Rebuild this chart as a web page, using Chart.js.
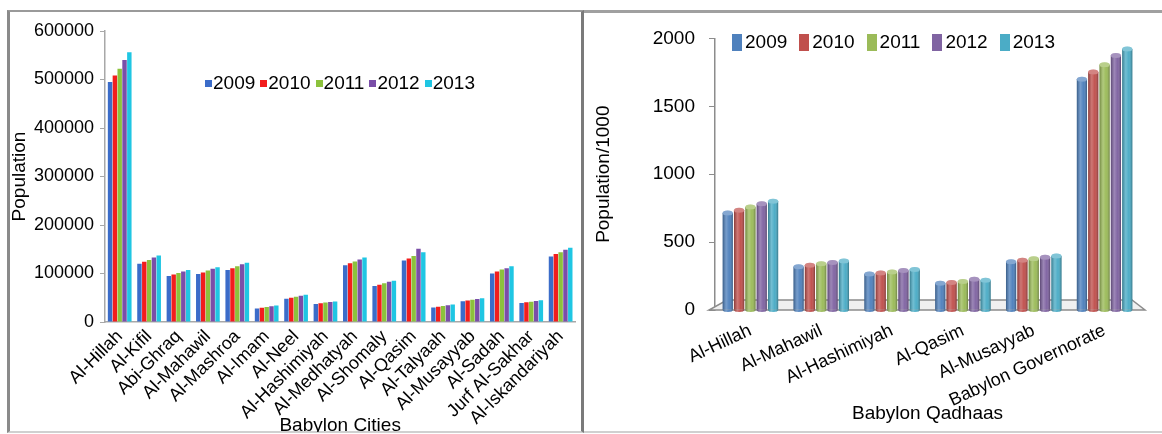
<!DOCTYPE html>
<html>
<head>
<meta charset="utf-8">
<script src="https://cdn.jsdelivr.net/npm/chart.js@4.4.0/dist/chart.umd.min.js"></script>
<style>
  html, body { margin: 0; padding: 0; background: #fff; }
  body { position: relative; width: 1162px; height: 434px; overflow: hidden; }
  .frame { position: absolute; box-sizing: border-box; }
  #leftFrame {
    left: 7px; top: 10px; width: 577px; height: 423px;
    border-left: 3px solid #8a8a8a; border-top: 2px solid #9a9a9a;
    border-right: 3px solid #7a7a7a; border-bottom: 2px solid #d0d0d0;
  }
  #rightFrame {
    left: 584px; top: 10px; width: 590px; height: 423px;
    border-top: 3px solid #a0a0a0; border-bottom: 2px solid #d0d0d0;
  }
  canvas { position: absolute; }
  #cities { left: 10px; top: 12px; }
  #qadhaas { left: 586px; top: 13px; }
  .legend {
    position: absolute; display: flex; align-items: center; white-space: nowrap;
    font-family: 'Liberation Sans', Arial, sans-serif; font-size: 19px; line-height: 22px; color: #000;
  }
  .legend .item { display: flex; align-items: center; }
  #citiesLegend { left: 205px; top: 72px; }
  #citiesLegend .swatch { width: 7px; height: 7px; margin-right: 1px; }
  #citiesLegend .item { margin-right: 5px; }
  #qadhaasLegend { left: 732px; top: 31px; }
  #qadhaasLegend .swatch { width: 10px; height: 17px; margin-right: 3px; }
  #qadhaasLegend .item { margin-right: 12px; }
</style>
</head>
<body>
<div class="frame" id="leftFrame"></div>
<div class="frame" id="rightFrame"></div>
<canvas id="cities" width="570" height="420"></canvas>
<canvas id="qadhaas" width="576" height="419"></canvas>
<div class="legend" id="citiesLegend"></div>
<div class="legend" id="qadhaasLegend"></div>
<script>
// Years shown in both legends
const years = ["2009", "2010", "2011", "2012", "2013"];

// Left chart: population of Babylon cities
const cityNames = [
    "Al-Hillah", "Al-Kifil", "Abi-Ghraq", "Al-Mahawil", "Al-Mashroa",
    "Al-Imam", "Al-Neel", "Al-Hashimiyah", "Al-Medhatyah", "Al-Shomaly",
    "Al-Qasim", "Al-Talyaah", "Al-Musayyab", "Al-Sadah", "Jurf Al-Sakhar",
    "Al-Iskandariyah",
];
const cityPop2009 = [495000, 120000, 95000, 99000, 107000, 28000, 48000, 37000, 117000, 74000, 127000, 30000, 43000, 100000, 39000, 135000];
const cityPop2010 = [508000, 124000, 98000, 102000, 111000, 29500, 50000, 38500, 121000, 77000, 131000, 31500, 44500, 104000, 40500, 140000];
const cityPop2011 = [522000, 128000, 101000, 106000, 115000, 31000, 52000, 40000, 125000, 80000, 136000, 33000, 46000, 108000, 42000, 144000];
const cityPop2012 = [540000, 133000, 104000, 110000, 119000, 32500, 54000, 41000, 129000, 83000, 151000, 34500, 47500, 111000, 43500, 149000];
const cityPop2013 = [556000, 137000, 107000, 113000, 122000, 34000, 56000, 42500, 133000, 85000, 144000, 36000, 49000, 115000, 45000, 153000];
const cityTicks = [0, 100000, 200000, 300000, 400000, 500000, 600000];

// Right chart: population of Babylon qadhaas, in thousands
const qadhaaNames = [
    "Al-Hillah", "Al-Mahawil", "Al-Hashimiyah", "Al-Qasim", "Al-Musayyab",
    "Babylon Governorate",
];
const qadhaaPop2009 = [715, 318, 265, 197, 355, 1700];
const qadhaaPop2010 = [735, 330, 272, 202, 367, 1752];
const qadhaaPop2011 = [758, 340, 280, 210, 377, 1806];
const qadhaaPop2012 = [782, 350, 290, 226, 388, 1875];
const qadhaaPop2013 = [800, 360, 298, 219, 397, 1922];
const qadhaaTicks = [0, 500, 1000, 1500, 2000];

const cityColors = ["#3b6cc9", "#f21d1d", "#8cc23c", "#7a4ea8", "#1fc6e3"];
const qadhaaColors = ["#4f81bd", "#c0504d", "#9bbb59", "#8064a2", "#4bacc6"];

const FONT = "'Liberation Sans', Arial, sans-serif";
Chart.defaults.font.family = FONT;
Chart.defaults.color = "#000";

// Builds an HTML legend from the chart's own legend items
const htmlLegend = {
    id: "htmlLegend",
    afterUpdate(chart, args, opts) {
        const container = document.getElementById(opts.containerID);
        if (!container) return;
        container.innerHTML = "";
        const items = chart.options.plugins.legend.labels.generateLabels(chart);
        items.forEach((item) => {
            const entry = document.createElement("span");
            entry.className = "item";
            const swatch = document.createElement("span");
            swatch.className = "swatch";
            swatch.style.background = item.fillStyle;
            const text = document.createElement("span");
            text.textContent = item.text;
            entry.appendChild(swatch);
            entry.appendChild(text);
            container.appendChild(entry);
        });
    },
};

// Grey 3D floor under the cylinders
const floorPlugin = {
    id: "floor",
    beforeDatasetsDraw(chart) {
        const { ctx, chartArea } = chart;
        const y0 = chart.scales.y.getPixelForValue(0);
        ctx.save();
        ctx.beginPath();
        ctx.moveTo(chartArea.left - 6, y0);
        ctx.lineTo(chartArea.right + 5, y0);
        ctx.lineTo(chartArea.right - 8, y0 - 10);
        ctx.lineTo(chartArea.left + 12, y0 - 10);
        ctx.closePath();
        ctx.fillStyle = "#f0f0f0";
        ctx.fill();
        ctx.strokeStyle = "#8c8c8c";
        ctx.lineWidth = 1.5;
        ctx.stroke();
        ctx.restore();
    },
};

// Shading over each bar so it reads as a cylinder
const cylinderShade = {
    id: "cylinderShade",
    afterDatasetsDraw(chart) {
        const ctx = chart.ctx;
        chart.data.datasets.forEach((ds, di) => {
            const meta = chart.getDatasetMeta(di);
            meta.data.forEach((bar) => {
                const { x, y, base, width } = bar.getProps(["x", "y", "base", "width"], true);
                const left = x - width / 2;
                ctx.save();
                // bottom rounding
                ctx.beginPath();
                ctx.ellipse(x, base, width / 2, 2.5, 0, 0, Math.PI);
                ctx.fillStyle = ds.backgroundColor;
                ctx.fill();
                const g = ctx.createLinearGradient(left, 0, left + width, 0);
                g.addColorStop(0, "rgba(0,0,0,0.28)");
                g.addColorStop(0.35, "rgba(255,255,255,0.22)");
                g.addColorStop(0.65, "rgba(255,255,255,0.02)");
                g.addColorStop(1, "rgba(0,0,0,0.32)");
                ctx.fillStyle = g;
                ctx.fillRect(left, y, width, base - y);
                ctx.beginPath();
                ctx.ellipse(x, base, width / 2, 2.5, 0, 0, Math.PI);
                ctx.fill();
                // top cap
                ctx.beginPath();
                ctx.ellipse(x, y, width / 2, 2.5, 0, 0, Math.PI * 2);
                ctx.fillStyle = ds.backgroundColor;
                ctx.fill();
                ctx.fillStyle = "rgba(255,255,255,0.3)";
                ctx.fill();
                ctx.restore();
            });
        });
    },
};

function makeDatasets(seriesList, colors) {
    return seriesList.map((data, i) => ({
        label: years[i],
        data,
        backgroundColor: colors[i],
        borderWidth: 0,
    }));
}

// Left chart
new Chart(document.querySelector("#cities"), {
    type: "bar",
    data: {
        labels: cityNames,
        datasets: makeDatasets(
            [cityPop2009, cityPop2010, cityPop2011, cityPop2012, cityPop2013],
            cityColors,
        ),
    },
    options: {
        responsive: false,
        animation: false,
        devicePixelRatio: 1,
        datasets: { bar: { categoryPercentage: 0.82, barPercentage: 0.92 } },
        layout: { padding: { left: 0, right: 3, top: 19, bottom: 0 } },
        scales: {
            x: {
                grid: { display: false, drawTicks: false },
                border: { display: true, color: "#a8a8a8", width: 1.5 },
                ticks: {
                    autoSkip: false,
                    minRotation: 45,
                    maxRotation: 45,
                    padding: 4,
                    font: { size: 18 },
                    color: "#000",
                },
                title: {
                    display: true,
                    text: "Babylon Cities",
                    font: { size: 19, lineHeight: 0.7 },
                    padding: { top: 0, bottom: 0 },
                    color: "#000",
                },
                afterFit: (scale) => { scale.height = 110; },
            },
            y: {
                min: 0,
                max: 600000,
                afterBuildTicks: (scale) => { scale.ticks = cityTicks.map((v) => ({ value: v })); },
                grid: { display: true, drawOnChartArea: false, drawTicks: true, tickLength: 5, color: "#a8a8a8" },
                border: { display: true, color: "#a8a8a8", width: 1.5 },
                ticks: { padding: 6, font: { size: 18 }, color: "#000", callback: (v) => String(v) },
                title: {
                    display: true,
                    text: "Population",
                    font: { size: 19, lineHeight: 1 },
                    padding: { top: 0, bottom: 0 },
                    color: "#000",
                },
                afterFit: (scale) => { scale.width = 95; },
            },
        },
        plugins: {
            tooltip: { enabled: false },
            legend: { display: false },
            htmlLegend: { containerID: "citiesLegend" },
        },
    },
    plugins: [htmlLegend],
});

// Right chart
new Chart(document.querySelector("#qadhaas"), {
    type: "bar",
    data: {
        labels: qadhaaNames,
        datasets: makeDatasets(
            [qadhaaPop2009, qadhaaPop2010, qadhaaPop2011, qadhaaPop2012, qadhaaPop2013],
            qadhaaColors,
        ),
    },
    options: {
        responsive: false,
        animation: false,
        devicePixelRatio: 1,
        datasets: { bar: { categoryPercentage: 0.8, barPercentage: 0.9 } },
        layout: { padding: { left: 0, right: 22, top: 24, bottom: 0 } },
        scales: {
            x: {
                grid: { display: false, drawTicks: false },
                border: { display: false },
                ticks: {
                    autoSkip: false,
                    minRotation: 25,
                    maxRotation: 25,
                    padding: 10,
                    font: { size: 18 },
                    color: "#000",
                },
                title: {
                    display: true,
                    text: "Babylon Qadhaas",
                    font: { size: 19, lineHeight: 1 },
                    padding: { top: 0, bottom: 9 },
                    color: "#000",
                },
                afterFit: (scale) => { scale.height = 122; },
            },
            y: {
                min: 0,
                max: 2000,
                afterBuildTicks: (scale) => { scale.ticks = qadhaaTicks.map((v) => ({ value: v })); },
                grid: { display: true, drawOnChartArea: false, drawTicks: true, tickLength: 6, color: "#8c8c8c" },
                border: { display: true, color: "#8c8c8c", width: 1.5 },
                ticks: { padding: 14, font: { size: 19 }, color: "#000", callback: (v) => String(v) },
                title: {
                    display: true,
                    text: "Population/1000",
                    font: { size: 19, lineHeight: 1 },
                    padding: { top: 8, bottom: 0 },
                    color: "#000",
                },
                afterFit: (scale) => { scale.width = 129; },
            },
        },
        plugins: {
            tooltip: { enabled: false },
            legend: { display: false },
            htmlLegend: { containerID: "qadhaasLegend" },
        },
    },
    plugins: [htmlLegend, floorPlugin, cylinderShade],
});
</script>
</body>
</html>
